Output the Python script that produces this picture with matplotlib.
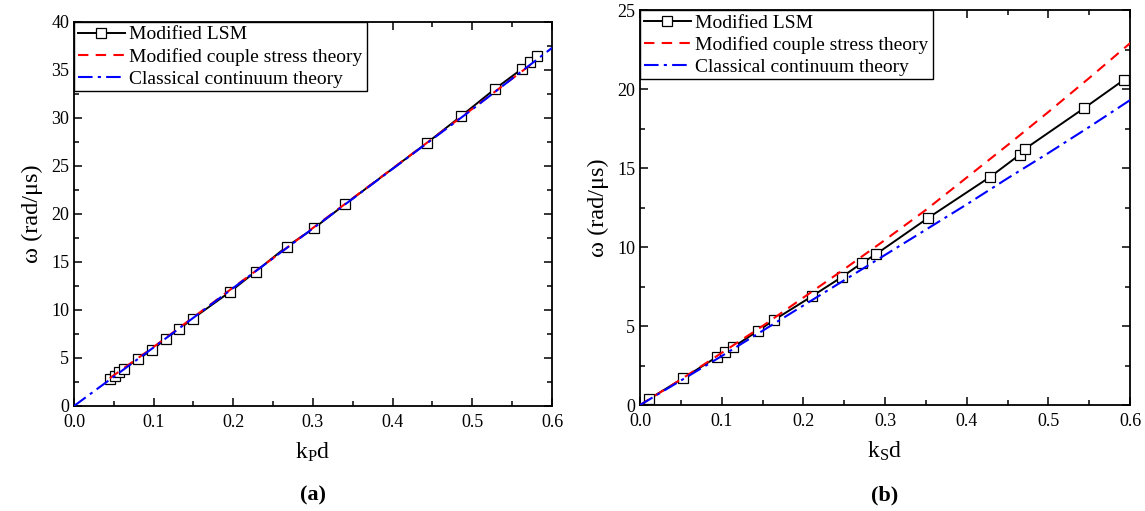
import matplotlib
matplotlib.use("Agg")
import matplotlib.pyplot as plt
from matplotlib.ticker import MultipleLocator

plt.rcParams["font.family"] = ["Liberation Serif", "DejaVu Serif"]
plt.rcParams["mathtext.fontset"] = "custom"
plt.rcParams["mathtext.rm"] = "Liberation Serif"
plt.rcParams["mathtext.it"] = "Liberation Serif:italic"

# (a) P wave
lsm_a_k = [0.045, 0.051, 0.056, 0.063, 0.080, 0.098, 0.115, 0.132, 0.149, 0.196,
           0.228, 0.267, 0.301, 0.340, 0.443, 0.486, 0.528, 0.562, 0.573, 0.581]
lsm_a_w = [2.8, 3.1, 3.5, 3.9, 4.9, 5.8, 7.0, 8.0, 9.1, 11.9,
           14.0, 16.6, 18.5, 21.0, 27.4, 30.2, 33.0, 35.1, 35.8, 36.5]
mcst_a_k = [0.045, 0.05, 0.1, 0.15, 0.2, 0.25, 0.3, 0.35, 0.4, 0.45, 0.5, 0.55, 0.575]
mcst_a_w = [2.9, 3.2, 6.15, 9.25, 12.35, 15.4, 18.55, 21.65, 24.75, 27.85, 30.95, 34.1, 35.65]
cct_a_k = [0.0, 0.1, 0.2, 0.3, 0.4, 0.5, 0.6]
cct_a_w = [0.0, 6.1, 12.3, 18.5, 24.7, 30.9, 37.3]

# (b) S wave
lsm_b_k = [0.011, 0.053, 0.094, 0.104, 0.114, 0.144, 0.164, 0.211, 0.247, 0.272,
           0.289, 0.353, 0.429, 0.465, 0.471, 0.544, 0.593]
lsm_b_w = [0.38, 1.7, 3.04, 3.35, 3.67, 4.68, 5.38, 6.9, 8.1, 9.0,
           9.55, 11.85, 14.45, 15.85, 16.2, 18.8, 20.6]
mcst_b_k = [0.0, 0.05, 0.1, 0.15, 0.2, 0.25, 0.3, 0.35, 0.4, 0.45, 0.5, 0.55, 0.6]
mcst_b_w = [0.0, 1.62, 3.3, 5.0, 6.8, 8.6, 10.45, 12.35, 14.4, 16.45, 18.55, 20.7, 22.9]
cct_b_k = [0.0, 0.05, 0.1, 0.15, 0.2, 0.25, 0.3, 0.35, 0.4, 0.45, 0.5, 0.55, 0.6]
cct_b_w = [0.0, 1.55, 3.1, 4.7, 6.3, 7.9, 9.5, 11.1, 12.7, 14.35, 15.95, 17.6, 19.3]

labels = ["Modified LSM", "Modified couple stress theory", "Classical continuum theory"]

fig = plt.figure(figsize=(11.45, 5.11), dpi=100)
ax1 = fig.add_axes([0.0646, 0.2055, 0.4175, 0.7515])
ax2 = fig.add_axes([0.559, 0.2074, 0.428, 0.773])


def draw(ax, lk, lw, mk, mw, ck, cw, ymax, ystep, xlabel, tag):
    ax.plot(lk, lw, color="black", lw=1.4, marker="s", ms=7.5, mfc="white",
            mec="black", mew=0.9, label=labels[0], zorder=2)
    ax.plot(mk, mw, color="red", lw=1.5, ls=(0, (5, 3.5)), label=labels[1], zorder=3)
    ax.plot(ck, cw, color="blue", lw=1.5, ls=(0, (7, 2.5, 1.5, 2.5)), label=labels[2], zorder=4)
    ax.set_xlim(0, 0.6)
    ax.set_ylim(0, ymax)
    ax.xaxis.set_major_locator(MultipleLocator(0.1))
    ax.xaxis.set_minor_locator(MultipleLocator(0.05))
    ax.yaxis.set_major_locator(MultipleLocator(ystep))
    ax.yaxis.set_minor_locator(MultipleLocator(ystep / 2))
    ax.xaxis.set_major_formatter(plt.FuncFormatter(lambda v, p: f"{v:.1f}"))
    ax.yaxis.set_major_formatter(plt.FuncFormatter(lambda v, p: f"{v:.0f}"))
    ax.tick_params(which="both", direction="in", top=True, right=True, labelsize=13)
    ax.tick_params(which="major", length=6, width=1.1)
    ax.tick_params(which="minor", length=3.5, width=1.1)
    ax.tick_params(axis="x", pad=6)
    for s in ax.spines.values():
        s.set_linewidth(1.3)
    ax.set_xlabel(xlabel, fontsize=17, labelpad=7)
    ax.set_ylabel("ω (rad/μs)", fontsize=17.5, labelpad=6)
    leg = ax.legend(loc="upper left", bbox_to_anchor=(0, 1), borderaxespad=0,
                    fontsize=14, numpoints=1, handlelength=2.4, handletextpad=0.25,
                    labelspacing=0.22, borderpad=0.2, fancybox=False,
                    edgecolor="black", framealpha=1)
    leg.get_frame().set_linewidth(1.0)
    cx = (ax.get_position().x0 + ax.get_position().x1) / 2
    fig.text(cx, 1 - 495 / 511, tag, ha="center", va="center",
             fontsize=16, fontweight="bold")


draw(ax1, lsm_a_k, lsm_a_w, mcst_a_k, mcst_a_w, cct_a_k, cct_a_w, 40, 5,
     r"k$_\mathrm{P}$d", "(a)")
draw(ax2, lsm_b_k, lsm_b_w, mcst_b_k, mcst_b_w, cct_b_k, cct_b_w, 25, 5,
     r"k$_\mathrm{S}$d", "(b)")

fig.savefig("out.png", dpi=100)
